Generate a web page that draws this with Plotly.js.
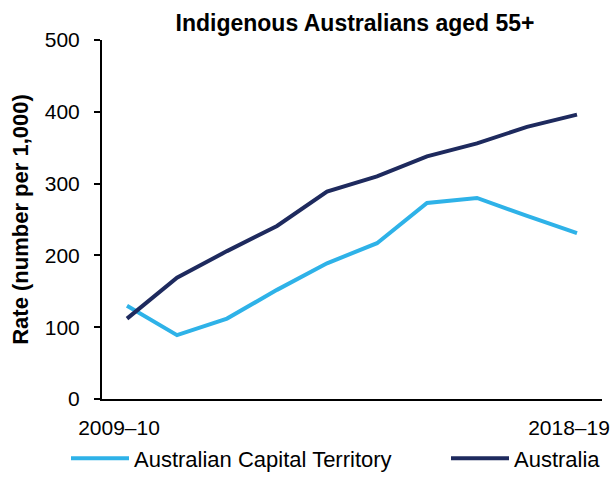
<!DOCTYPE html>
<html>
<head>
<meta charset="utf-8">
<script src="https://cdn.plot.ly/plotly-3.0.1.min.js"></script>
<style>html,body{margin:0;padding:0;background:#fff;}#chart{width:610px;height:502px;}</style>
</head>
<body>
<div id="chart"></div>
<script>
const years = ["2009–10","2010–11","2011–12","2012–13","2013–14","2014–15","2015–16","2016–17","2017–18","2018–19"];
const actValues = [130, 89, 112, 152, 189, 217, 273, 280, 255, 231];
const ausValues = [112, 169, 206, 241, 289, 310, 338, 356, 379, 396];
const tickShown = ["2009–10", "2018–19"];

const traces = [
  {x: years, y: actValues, type: "scatter", mode: "lines", name: "Australian Capital Territory",
   line: {color: "#2EB2E8", width: 4}, legend: "legend"},
  {x: years, y: ausValues, type: "scatter", mode: "lines", name: "Australia",
   line: {color: "#1E2A5E", width: 4}, legend: "legend2"}
];

const legendBase = {orientation: "h", yanchor: "top", y: -0.107, xanchor: "left",
  itemwidth: 58, font: {size: 22}, bgcolor: "rgba(0,0,0,0)"};

const layout = {
  width: 610, height: 502,
  margin: {l: 102, r: 8, t: 40, b: 103, autoexpand: false},
  paper_bgcolor: "#fff", plot_bgcolor: "#fff",
  font: {family: "'Liberation Sans', Arial, sans-serif", size: 21, color: "#000"},
  title: {text: "<b>Indigenous Australians aged 55+</b>", font: {size: 23}, x: 0.582, xanchor: "center", y: 0.955, yanchor: "middle"},
  xaxis: {
    type: "category", range: [-0.5, 9.5], showgrid: false, zeroline: false,
    showline: true, linecolor: "#000", linewidth: 2,
    tickmode: "array", tickvals: tickShown, ticks: "", ticklabelstandoff: 9, ticklabelshift: -8
  },
  yaxis: {
    range: [0, 500], dtick: 100, showgrid: false, zeroline: false,
    showline: true, linecolor: "#000", linewidth: 2,
    ticks: "outside", ticklen: 6, tickwidth: 2, tickcolor: "#000", ticklabelstandoff: 10,
    title: {text: "<b>Rate (number per 1,000)</b>", font: {size: 22}, standoff: 10}
  },
  showlegend: true,
  legend: Object.assign({}, legendBase, {x: -0.072}),
  legend2: Object.assign({}, legendBase, {x: 0.688})
};

Plotly.newPlot("chart", traces, layout, {displayModeBar: false, staticPlot: true});
</script>
</body>
</html>
